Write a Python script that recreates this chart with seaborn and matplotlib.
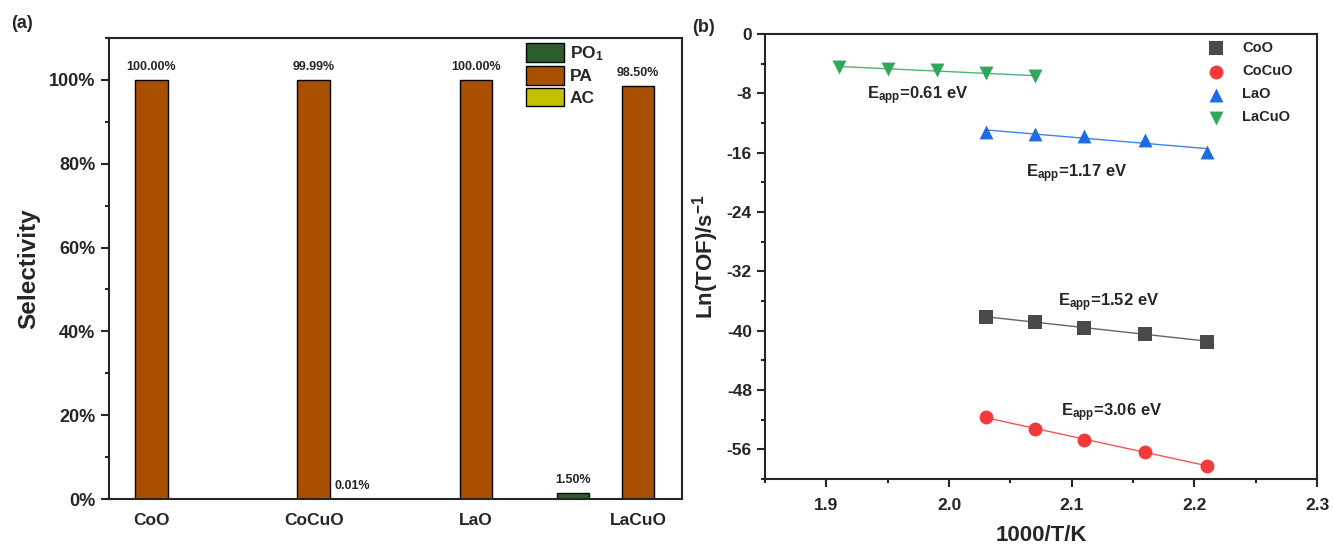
import numpy as np
import pandas as pd
import matplotlib
matplotlib.use("Agg")
import matplotlib.pyplot as plt
import seaborn as sns
from matplotlib.ticker import PercentFormatter, MultipleLocator
from matplotlib.patches import Patch

# (a) selectivity data, %
catalysts = ["CoO", "CoCuO", "LaO", "LaCuO"]
products = ["PO$_1$", "PA", "AC"]
sel_po1 = [0.0, 0.0, 0.0, 1.5]
sel_pa = [100.0, 99.99, 100.0, 98.5]
sel_ac = [0.0, 0.01, 0.0, 0.0]
bar_colors = ["#2b5e2b", "#a94f00", "#c2c200"]

# (b) Arrhenius data
x_55 = [2.03, 2.07, 2.11, 2.16, 2.21]
x_lacuo = [1.91, 1.95, 1.99, 2.03, 2.07]
ln_coo = [-38.2, -38.8, -39.6, -40.4, -41.5]
ln_cocuo = [-51.7, -53.2, -54.7, -56.4, -58.2]
ln_lao = [-13.2, -13.5, -13.8, -14.3, -15.9]
ln_lacuo = [-4.4, -4.75, -4.9, -5.25, -5.7]
ea_labels = ["1.52", "3.06", "1.17", "0.61"]
ea_pos = [(2.089, -36.2), (2.091, -51.0), (2.063, -18.8), (1.933, -8.3)]

sns.set_style("ticks")
plt.rcParams["font.family"] = ["Liberation Sans", "DejaVu Sans"]
plt.rcParams["font.weight"] = "bold"
plt.rcParams["mathtext.fontset"] = "custom"
plt.rcParams["mathtext.rm"] = "Liberation Sans:bold"
plt.rcParams["mathtext.bf"] = "Liberation Sans:bold"
plt.rcParams["mathtext.it"] = "Liberation Sans:bold"
plt.rcParams["mathtext.default"] = "bf"
plt.rcParams["axes.unicode_minus"] = False

fig = plt.figure(figsize=(13.33, 5.48), dpi=100)
ax1 = fig.add_axes([0.0814, 0.0894, 0.4302, 0.8413])
ax2 = fig.add_axes([0.574, 0.126, 0.4141, 0.812])

# ---- panel (a)
rows = []
for i, c in enumerate(catalysts):
    for p, vals in zip(products, [sel_po1, sel_pa, sel_ac]):
        rows.append({"cat": c, "prod": p, "val": vals[i]})
df = pd.DataFrame(rows)

width = 1.2
sns.barplot(data=df, x="cat", y="val", hue="prod", order=catalysts,
            hue_order=products, palette=bar_colors, saturation=1,
            width=width, gap=0.5, edgecolor="black", linewidth=1.0,
            errorbar=None, ax=ax1, legend=False)

slot = width / len(products)
for i, c in enumerate(catalysts):
    for j, vals in enumerate([sel_po1, sel_pa, sel_ac]):
        v = vals[i]
        if v > 0:
            xo = i + (j - 1) * slot
            if v < 0.1:
                xo -= 0.16
            ax1.text(xo, v + 1.6, f"{v:.2f}%", ha="center", va="bottom",
                     fontsize=9, fontweight="bold")

ax1.set_xlim(-0.265, 3.27)
ax1.set_ylim(0, 110)
ax1.yaxis.set_major_locator(MultipleLocator(20))
ax1.yaxis.set_minor_locator(MultipleLocator(10))
ax1.yaxis.set_major_formatter(PercentFormatter(xmax=100, decimals=0))
ax1.set_xlabel("")
ax1.set_ylabel("Selectivity", fontsize=17.5, fontweight="bold", labelpad=6)
ax1.tick_params(axis="y", which="major", length=6, width=1.5, labelsize=13)
ax1.tick_params(axis="y", which="minor", length=3, width=1.5)
ax1.tick_params(axis="x", length=0, labelsize=12.5, pad=10)
for lab in ax1.get_xticklabels() + ax1.get_yticklabels():
    lab.set_fontweight("bold")
for s in ax1.spines.values():
    s.set_linewidth(1.5)
    s.set_visible(True)

handles = [Patch(facecolor=col, edgecolor="black", label=p)
           for col, p in zip(bar_colors, products)]
ax1.legend(handles=handles, loc="upper left", bbox_to_anchor=(0.70, 1.022),
           frameon=False, handlelength=2.2, handleheight=1.3, handletextpad=0.35,
           labelspacing=0.15, prop={"weight": "bold", "size": 12.5})
fig.text(0.008, 0.948, "(a)", fontsize=13, fontweight="bold")

# ---- panel (b)
series = [("CoO", x_55, ln_coo, "s", "#4a4a4a"),
          ("CoCuO", x_55, ln_cocuo, "o", "#f23a3a"),
          ("LaO", x_55, ln_lao, "^", "#1c6ee0"),
          ("LaCuO", x_lacuo, ln_lacuo, "v", "#2ea85c")]
for name, xs, ys, mk, col in series:
    sns.regplot(x=np.array(xs), y=np.array(ys), ci=None, marker=mk, color=col,
                scatter_kws={"s": 100, "linewidths": 0, "alpha": 1},
                line_kws={"linewidth": 1.0, "alpha": 0.85}, ax=ax2, label=name)

for lab, (tx, ty) in zip(ea_labels, ea_pos):
    ax2.text(tx, ty, "E$_{app}$=" + lab + " eV", fontsize=12,
             fontweight="bold", va="center")

ax2.set_xlim(1.85, 2.3)
ax2.set_ylim(-60, 0)
ax2.xaxis.set_major_locator(MultipleLocator(0.1))
ax2.xaxis.set_minor_locator(MultipleLocator(0.05))
ax2.yaxis.set_major_locator(MultipleLocator(8))
ax2.yaxis.set_minor_locator(MultipleLocator(4))
ax2.xaxis.set_major_formatter(matplotlib.ticker.FormatStrFormatter("%.1f"))
ax2.tick_params(which="major", length=6, width=1.5, labelsize=12.5)
ax2.tick_params(which="minor", length=3, width=1.5)
ax2.tick_params(axis="x", pad=8)
for lab in ax2.get_xticklabels() + ax2.get_yticklabels():
    lab.set_fontweight("bold")
for s in ax2.spines.values():
    s.set_linewidth(1.5)
    s.set_visible(True)
ax2.set_xlabel("1000/T/K", fontsize=16, fontweight="bold", labelpad=8)
ax2.set_ylabel("Ln(TOF)/s$^{-1}$", fontsize=16, fontweight="bold", labelpad=4)

h, l = ax2.get_legend_handles_labels()
ax2.legend(h[:4], l[:4], loc="upper right", bbox_to_anchor=(0.98, 1.013),
           frameon=False, handletextpad=0.8, labelspacing=0.62,
           prop={"weight": "bold", "size": 10.5})
fig.text(0.519, 0.942, "(b)", fontsize=13, fontweight="bold")

fig.savefig("out.png", dpi=100)
